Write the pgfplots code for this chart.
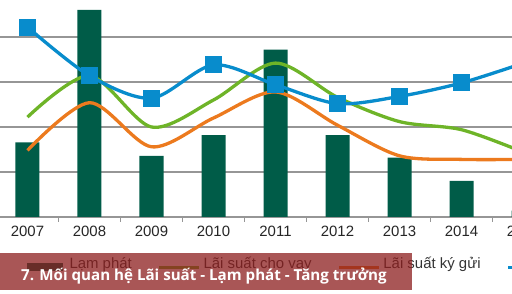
\documentclass[border=0pt]{standalone}
\usepackage{fontspec}
\setmainfont{Liberation Sans}
\newfontfamily\bannerfont{Open Sans}
\usepackage{pgfplots}
\pgfplotsset{compat=1.18}
\definecolor{barcol}{RGB}{0,92,72}
\definecolor{grcol}{RGB}{110,180,40}
\definecolor{orcol}{RGB}{236,122,30}
\definecolor{blcol}{RGB}{8,140,204}
\definecolor{gridcol}{RGB}{150,150,150}
\definecolor{bannercol}{RGB}{140,30,30}
\begin{document}
\begin{tikzpicture}
\path[use as bounding box, clip] (0,0) rectangle (512bp,294bp);
\begin{axis}[
  at={(0bp,77bp)}, anchor=south west,
  scale only axis, width=554.5bp, height=225bp,
  xmin=-0.4435, xmax=8.5, ymin=0, ymax=25,
  axis x line*=bottom, axis y line*=left,
  y axis line style={draw=none}, ytick style={draw=none},
  ytick={5,10,15,20}, yticklabels={},
  ymajorgrids, grid style={gridcol, line width=1.2bp},
  x axis line style={gridcol, line width=1.2bp},
  xtick={0,...,8},
  xticklabels={2007,2008,2009,2010,2011,2012,2013,2014,2015},
  minor xtick={-0.5,0.5,...,8.5},
  major x tick style={draw=none},
  minor x tick style={gridcol, line width=1bp},
  minor tick length=5bp, tick align=outside,
  xticklabel style={font=\fontsize{15}{17}\selectfont, text=black!85, yshift=-1bp},
  legend columns=4,
  legend style={at={(0.0487,-0.2089)}, anchor=west, draw=none, fill=none,
    inner sep=0pt, outer sep=0pt, nodes={inner sep=0pt, anchor=base west},
    font=\fontsize{15}{17}\selectfont, text=black!80,
    /tikz/every odd column/.append style={column sep=2.5bp},
    /tikz/every even column/.append style={column sep=26bp}},
]
\addplot[ybar, bar width=24bp, bar shift=0pt, fill=barcol, draw=none,
  legend image code/.code={\fill[barcol] (0bp,-3bp) rectangle (36bp,5bp); \path (0bp,0bp) -- (40bp,0bp);}]
  coordinates {(0,8.3) (1,23.0) (2,6.8) (3,9.1) (4,18.6) (5,9.1) (6,6.6) (7,4.0) (8,0.7)};
\addlegendentry{Lạm phát}
\addplot[grcol, line width=3.3bp, smooth, no marks,
  legend image code/.code={\draw[grcol, line width=3.3bp] (0bp,1bp) -- (40bp,1bp);}]
  coordinates {(0,11.1) (1,15.7) (2,10.0) (3,13.0) (4,17.1) (5,13.3) (6,10.6) (7,9.7) (8,7.2)};
\addlegendentry{Lãi suất cho vay}
\addplot[orcol, line width=3.3bp, smooth, no marks,
  legend image code/.code={\draw[orcol, line width=3.3bp] (0bp,1bp) -- (40bp,1bp);}]
  coordinates {(0,7.4) (1,12.7) (2,7.8) (3,11.0) (4,13.9) (5,10.2) (6,6.8) (7,6.4) (8,6.4)};
\addlegendentry{Lãi suất ký gửi}
\addplot[blcol, line width=3.3bp, smooth, mark=square*, mark size=6.8bp,
  mark options={fill=blcol, draw=none},
  legend image code/.code={\draw[blcol, line width=3.3bp] (0bp,1bp) -- (40bp,1bp);}]
  coordinates {(0,21.1) (1,15.7) (2,13.2) (3,16.9) (4,14.7) (5,12.6) (6,13.4) (7,14.9) (8,17.1)};
\addlegendentry{Tăng trưởng GDP}
\end{axis}
\fill[bannercol, opacity=0.75] (0bp,4bp) rectangle (412bp,41bp);
\node[anchor=base west, inner sep=0pt, text=white, font=\bannerfont\bfseries\fontsize{15.2}{17}\selectfont] at (21bp,14bp) {7. Mối quan hệ Lãi suất - Lạm phát - Tăng trưởng};
\end{tikzpicture}
\end{document}
